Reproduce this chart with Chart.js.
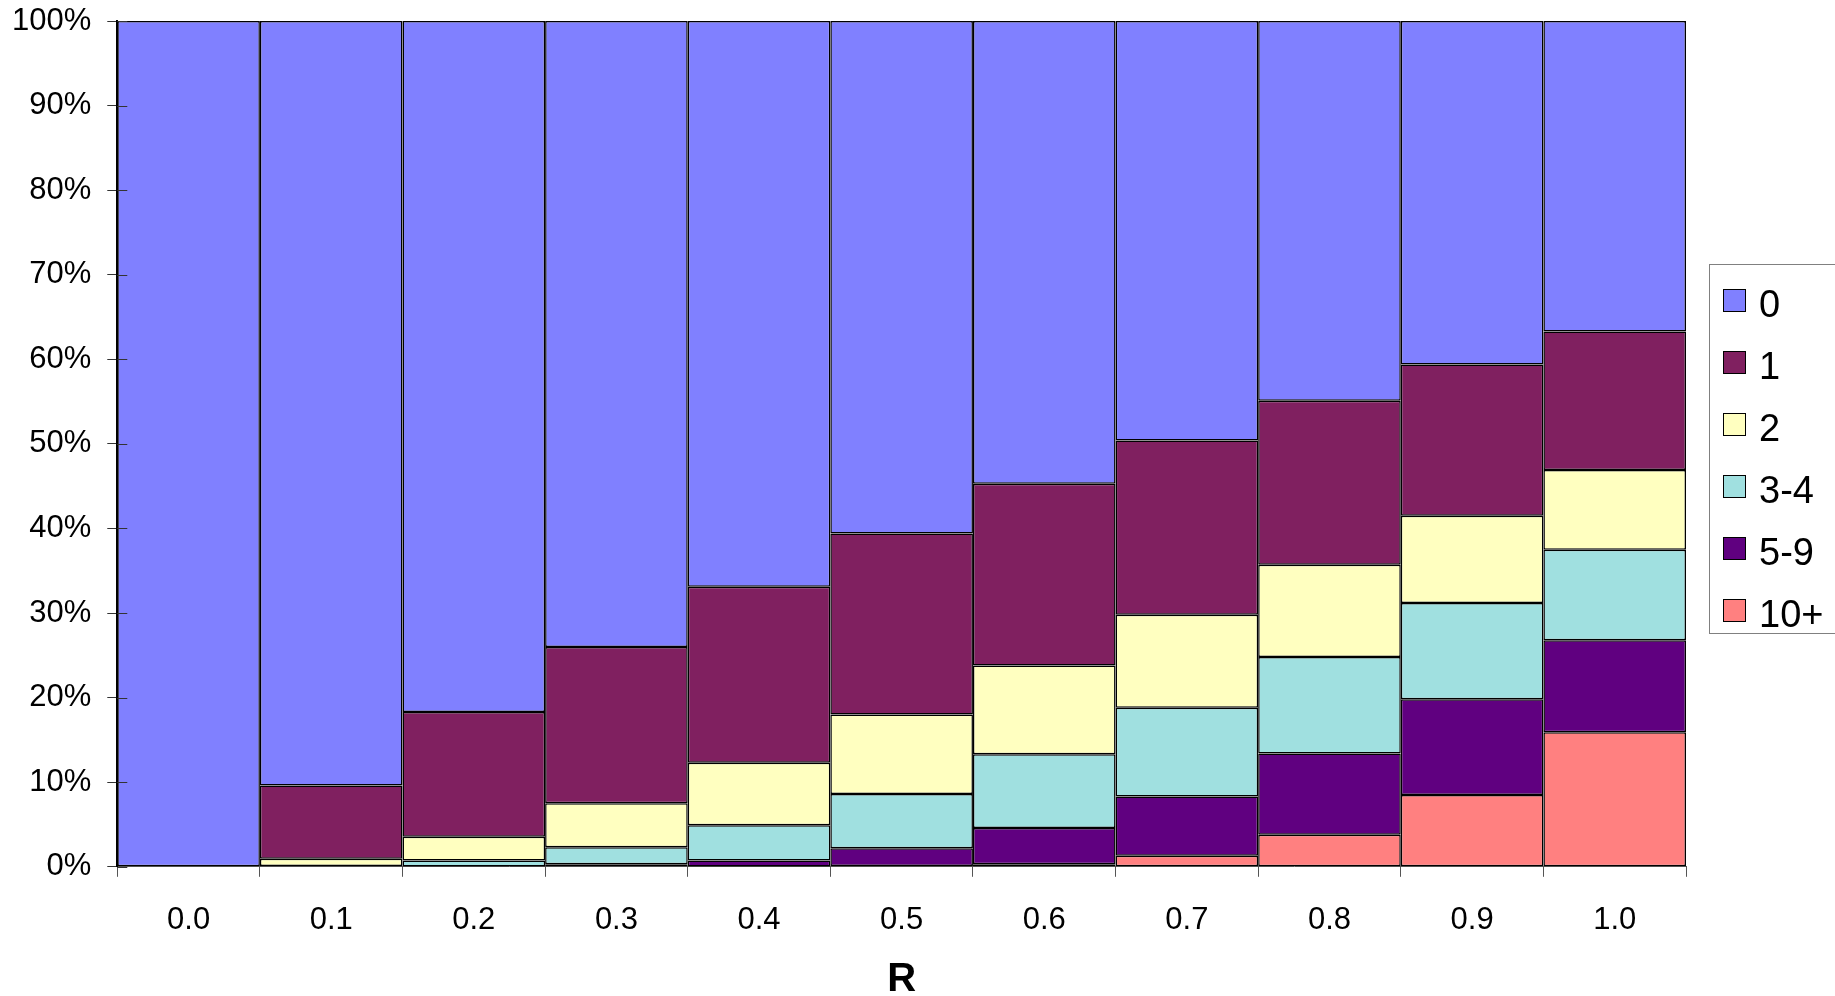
<!DOCTYPE html>
<html>
<head>
<meta charset="utf-8">
<script src="https://cdn.jsdelivr.net/npm/chart.js@4/dist/chart.umd.min.js"></script>
<style>
  body { margin: 0; background: #fff; overflow: hidden; }
  #wrap { position: relative; width: 1835px; height: 996px; }
  #legend {
    position: absolute; left: 1709px; top: 264px; width: 200px; height: 370px;
    border: 1px solid #808080; box-sizing: border-box; background: #fff;
    font-family: "Liberation Sans", Arial, sans-serif; font-size: 38px; color: #000;
  }
  .item { position: absolute; left: 13px; height: 40px; display: flex; align-items: center; }
  .sw { width: 21px; height: 21px; border: 1.5px solid #000; margin-right: 13px; }
  .lab { padding-top: 7px; line-height: 38px; }
</style>
</head>
<body>
<div id="wrap">
  <canvas id="chart" width="1835" height="996"></canvas>
  <div id="legend"></div>
</div>
<script>
// R values on the x axis
const categories = ["0.0", "0.1", "0.2", "0.3", "0.4", "0.5", "0.6", "0.7", "0.8", "0.9", "1.0"]

// share of each group, in percent (bottom segment first)
const tenPlus = [0, 0, 0, 0, 0.05, 0.1, 0.3, 1.3, 3.8, 8.5, 15.9]
const fiveToNine = [0, 0, 0.05, 0.3, 0.7, 2.1, 4.3, 7.0, 9.6, 11.3, 10.9]
const threeToFour = [0, 0.1, 0.7, 2.0, 4.15, 6.4, 8.7, 10.5, 11.4, 11.4, 10.7]
const two = [0, 0.85, 2.8, 5.2, 7.4, 9.4, 10.5, 11.0, 10.9, 10.3, 9.4]
const one = [0, 8.65, 14.75, 18.5, 20.8, 21.4, 21.5, 20.6, 19.4, 17.9, 16.4]
const zero = [100, 90.4, 81.7, 74.0, 66.9, 60.6, 54.7, 49.6, 44.9, 40.6, 36.7]

const yTicks = [0, 10, 20, 30, 40, 50, 60, 70, 80, 90, 100]

const seriesNames = ["10+", "5-9", "3-4", "2", "1", "0"]
const seriesData = [tenPlus, fiveToNine, threeToFour, two, one, zero]
const seriesColors = ["#FF8080", "#600080", "#A0E0E0", "#FFFFC0", "#802060", "#8080FF"]

const font = "'Liberation Sans', Arial, sans-serif"

let datasets = []
seriesNames.forEach(function (name, i) {
    datasets.push({
        label: name,
        data: seriesData[i],
        backgroundColor: seriesColors[i],
        borderColor: "#000",
        borderWidth: 1.5,
        borderSkipped: false,
        inflateAmount: 0,
        barPercentage: 1,
        categoryPercentage: 1
    })
})

// y tick marks cross the axis, so draw the short inner half too
const innerTicks = {
    id: "innerTicks",
    afterDatasetsDraw: function (chart) {
        let ctx = chart.ctx
        let y = chart.scales.y
        let left = chart.chartArea.left
        ctx.save()
        ctx.strokeStyle = "#333"
        ctx.lineWidth = 1
        y.ticks.forEach(function (t) {
            let py = Math.round(y.getPixelForValue(t.value)) + 0.5
            ctx.beginPath()
            ctx.moveTo(left, py)
            ctx.lineTo(left + 10, py)
            ctx.stroke()
        })
        ctx.restore()
    }
}

const chart = new Chart(document.getElementById("chart"), {
    type: "bar",
    data: { labels: categories, datasets: datasets },
    plugins: [innerTicks],
    options: {
        responsive: false,
        animation: false,
        layout: { padding: { left: -4, right: 149, top: 21, bottom: 0 } },
        plugins: { legend: { display: false }, tooltip: { enabled: false } },
        scales: {
            x: {
                stacked: true,
                offset: true,
                grid: { offset: true, drawOnChartArea: false, tickLength: 10, color: "#555", lineWidth: 1 },
                border: { color: "#555", width: 1 },
                ticks: { color: "#000", padding: 25, font: { family: font, size: 31 } },
                title: {
                    display: true, text: "R", color: "#000",
                    font: { family: font, size: 40, weight: "bold", lineHeight: 0.8 },
                    padding: { top: 0, bottom: 0 }
                }
            },
            y: {
                stacked: true,
                min: 0,
                max: 100,
                afterBuildTicks: function (axis) {
                    axis.ticks = yTicks.map(function (v) { return { value: v } })
                },
                grid: { drawOnChartArea: false, tickLength: 10, color: "#333", lineWidth: 1 },
                border: { color: "#000", width: 2 },
                ticks: {
                    color: "#000", padding: 16, font: { family: font, size: 31, lineHeight: 0.2 },
                    callback: function (v) { return v + "%" }
                }
            }
        }
    }
})

// legend box, top to bottom: 0, 1, 2, 3-4, 5-9, 10+
let legend = document.getElementById("legend")
chart.data.datasets.slice().reverse().forEach(function (ds, i) {
    let item = document.createElement("div")
    item.className = "item"
    item.style.top = (15 + i * 62) + "px"
    let sw = document.createElement("div")
    sw.className = "sw"
    sw.style.background = ds.backgroundColor
    let lab = document.createElement("div")
    lab.className = "lab"
    lab.innerText = ds.label
    item.appendChild(sw)
    item.appendChild(lab)
    legend.appendChild(item)
})
</script>
</body>
</html>
